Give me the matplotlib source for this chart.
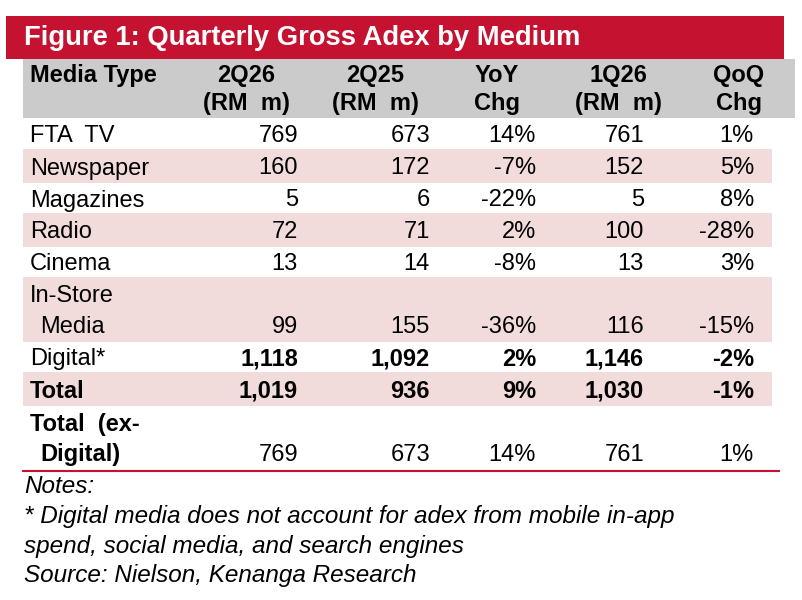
import matplotlib
matplotlib.use("Agg")
import matplotlib.pyplot as plt
from matplotlib.patches import Rectangle

# ---- data ----
title = "Figure 1: Quarterly Gross Adex by Medium"
headers = [["Media Type", ""], ["2Q26", "(RM  m)"], ["2Q25", "(RM  m)"],
           ["YoY", "Chg"], ["1Q26", "(RM  m)"], ["QoQ", "Chg"]]
media = ["FTA  TV", "Newspaper", "Magazines", "Radio", "Cinema",
         "In-Store\nMedia", "Digital*", "Total", "Total  (ex-\nDigital)"]
q2_26 = [769, 160, 5, 72, 13, 99, 1118, 1019, 769]
q2_25 = [673, 172, 6, 71, 14, 155, 1092, 936, 673]
yoy = [14, -7, -22, 2, -8, -36, 2, 9, 14]
q1_26 = [761, 152, 5, 100, 13, 116, 1146, 1030, 761]
qoq = [1, 5, 8, -28, 3, -15, -2, -1, 1]
bold_vals = [False, False, False, False, False, False, True, True, False]
bold_label = [False, False, False, False, False, False, False, True, True]
notes = ["Notes:",
         "* Digital media does not account for adex from mobile in-app",
         "spend, social media, and search engines",
         "Source: Nielson, Kenanga Research"]

# ---- style / layout ----
RED = "#C41230"
GRAY = "#CBCBCB"
PINK = "#F2DCDB"
FONT = "Liberation Sans"
FS = 17
row_h = [31, 34, 30, 34, 30, 65, 30, 34, 64]
row_fill = [None, PINK, None, PINK, None, PINK, None, PINK, None]
col_right = [None, 298, 430, 536, 644, 754]
col_center = [None, 246, 375, 497, 618, 739]

fig = plt.figure(figsize=(8.03, 6.0), dpi=100)
ax = fig.add_axes([0, 0, 1, 1])
ax.set_xlim(0, 803)
ax.set_ylim(600, 0)
ax.axis("off")

# title banner
ax.add_patch(Rectangle((6, 16), 778, 43, color=RED, lw=0))
ax.text(24, 45, title, color="white", fontsize=19.7, fontweight="bold",
        family=FONT, va="baseline", ha="left")

# header
ax.add_patch(Rectangle((23, 59), 772, 59, color=GRAY, lw=0))
for j, (l1, l2) in enumerate(headers):
    if j == 0:
        ax.text(30, 82, l1, fontsize=FS, fontweight="bold", family=FONT,
                va="baseline", ha="left")
    else:
        ax.text(col_center[j], 82, l1, fontsize=FS, fontweight="bold",
                family=FONT, va="baseline", ha="center")
        ax.text(col_center[j], 110, l2, fontsize=FS, fontweight="bold",
                family=FONT, va="baseline", ha="center")

def fmt(v):
    return f"{v:,}"

y = 118
for i, name in enumerate(media):
    h = row_h[i]
    if row_fill[i]:
        ax.add_patch(Rectangle((23, y), 749, h, color=row_fill[i], lw=0))
    wt = "bold" if bold_label[i] else "normal"
    if "\n" in name:
        top, bot = name.split("\n")
        ly1 = y + 25
        ly2 = y + h - 9
        ax.text(30, ly1, top, fontsize=FS, family=FONT, va="baseline", fontweight=wt)
        ax.text(40, ly2, bot, fontsize=FS, family=FONT, va="baseline", fontweight=wt)
        vy = ly2
    else:
        vy = y + h / 2 + 8.5
        ax.text(30, vy, name, fontsize=FS, family=FONT, va="baseline", fontweight=wt)
    vals = [fmt(q2_26[i]), fmt(q2_25[i]), f"{yoy[i]}%", fmt(q1_26[i]), f"{qoq[i]}%"]
    for j, s in enumerate(vals, start=1):
        ax.text(col_right[j], vy, s, fontsize=FS, family=FONT, va="baseline",
                ha="right", fontweight="bold" if bold_vals[i] else "normal")
    y += h

# bottom red rule
ax.plot([22, 780], [y + 1, y + 1], color=RED, lw=1.5, solid_capstyle="butt")

# notes
ny = [493, 523, 553, 582]
for t, yy in zip(notes, ny):
    ax.text(24, yy, t, fontsize=17.5, style="italic", family=FONT,
            va="baseline", ha="left")

fig.savefig("out.png", dpi=100)
